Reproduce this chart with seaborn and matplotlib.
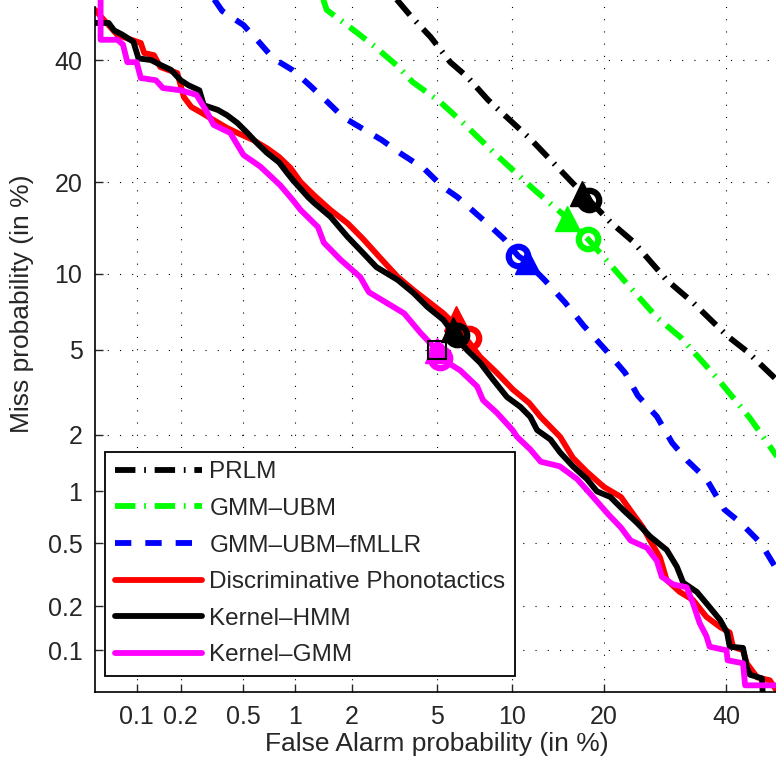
import numpy as np
import pandas as pd
import seaborn as sns
import matplotlib
matplotlib.use("Agg")
import matplotlib.pyplot as plt
from statistics import NormalDist

# DET curves, values in % (false alarm, miss)
prlm_fa = [3.3, 3.8, 4.7, 5.7, 6.7, 8.1, 11.7, 17.6, 20.9, 24.2, 29.5, 34.0, 40.3, 44.0, 50.0]
prlm_miss = [51.5, 48.5, 44.3, 39.6, 36.9, 32.8, 26.2, 18.2, 15.1, 13.0, 9.5, 7.8, 5.7, 4.9, 3.6]

gmm_fa = [1.42, 1.48, 2.0, 2.6, 3.35, 3.9, 5.15, 6.45, 8.5, 12.0, 15.4, 17.9, 22.8, 27.9, 31.8,
          35.8, 38.9, 44.6, 50.0]
gmm_miss = [51.5, 49.5, 45.9, 42.5, 38.8, 36.0, 32.5, 28.9, 24.3, 19.0, 15.6, 13.3, 9.5, 6.8, 5.65,
            4.4, 3.6, 2.4, 1.5]

fmllr_fa = [0.33, 0.37, 0.5, 0.61, 0.75, 0.97, 1.2, 1.49, 1.8, 2.1, 2.8, 3.45, 4.4, 5.3, 6.1, 8.0,
            9.3, 10.5, 11.2, 13.0, 15.2, 17.4, 20.2, 23.0, 24.9, 27.9, 30.4, 33.0, 36.4, 39.7,
            42.8, 46.6, 50.0]
fmllr_miss = [51.5, 49.3, 46.6, 43.6, 40.3, 38.1, 35.4, 32.5, 29.9, 28.6, 26.2, 24.1, 21.9, 19.4,
              18.1, 15.0, 13.3, 11.6, 11.1, 9.5, 7.8, 6.3, 5.0, 3.95, 3.1, 2.46, 1.82, 1.47, 1.17,
              0.79, 0.66, 0.5, 0.33]

disc_fa = [0.04, 0.05, 0.073, 0.107, 0.113, 0.132, 0.146, 0.164, 0.19, 0.21, 0.235, 0.27, 0.327,
           0.397, 0.46, 0.57, 0.69, 0.81, 0.94, 1.07, 1.27, 1.55, 1.9, 2.27, 2.81, 3.34, 3.94, 4.69,
           5.33, 6.1, 7.54, 8.77, 10.05, 11.5, 12.6, 14.65, 16.1, 17.8, 20.0, 22.4, 23.8, 25.7, 26.8,
           28.4, 29.5, 31.7, 34.0, 36.4, 38.9, 40.7, 41.3, 43.2, 43.9, 45.9, 48.3, 49.5, 52]
disc_miss = [49.5, 49.5, 44.7, 43.2, 41.3, 40.9, 38.7, 38.2, 37.6, 33.3, 31.6, 30.7, 29.4, 28.1,
             27.3, 26.2, 24.9, 23.6, 22.0, 20.05, 18.3, 16.5, 14.97, 13.3, 11.25, 9.75, 8.71, 7.75,
             7.07, 6.22, 4.65, 3.94, 3.31, 2.86, 2.45, 1.95, 1.52, 1.28, 1.06, 0.93, 0.78, 0.62,
             0.52, 0.41, 0.296, 0.248, 0.22, 0.17, 0.145, 0.133, 0.106, 0.1, 0.081, 0.064, 0.061,
             0.052, 0.052]

khmm_fa = [0.04, 0.063, 0.069, 0.08, 0.095, 0.103, 0.126, 0.146, 0.172, 0.2, 0.225, 0.265, 0.283,
           0.347, 0.397, 0.46, 0.528, 0.602, 0.69, 0.81, 0.9, 0.97, 1.18, 1.27, 1.55, 1.9, 2.27,
           2.64, 3.34, 3.94, 4.55, 5.33, 5.86, 6.69, 7.54, 8.46, 9.56, 10.7, 11.6, 12.25, 13.6,
           14.65, 16.1, 17.8, 19.1, 20.9, 22.8, 24.8, 26.8, 29.5, 31.2, 32.3, 34.7, 37.0, 38.9,
           40.2, 40.7, 43.2, 43.9, 44.5, 46.8, 47.0]
khmm_miss = [47.0, 47.0, 45.6, 44.7, 43.4, 40.3, 40.0, 39.1, 38.2, 36.3, 35.4, 34.5, 31.9, 31.1,
             30.2, 28.9, 27.3, 25.7, 24.2, 22.8, 21.3, 20.3, 18.04, 17.35, 15.7, 13.5, 11.9, 10.6,
             9.5, 8.49, 7.49, 6.65, 5.88, 4.97, 4.38, 3.68, 3.05, 2.74, 2.45, 2.11, 1.89, 1.62,
             1.37, 1.17, 1.0, 0.93, 0.78, 0.66, 0.55, 0.456, 0.36, 0.285, 0.248, 0.197, 0.162,
             0.133, 0.106, 0.104, 0.076, 0.067, 0.063, 0.045]

kgmm_fa = [0.055, 0.055, 0.073, 0.08, 0.086, 0.1, 0.107, 0.136, 0.152, 0.2, 0.254, 0.297, 0.327,
           0.415, 0.5, 0.63, 0.82, 0.97, 1.07, 1.33, 1.43, 1.75, 2.2, 2.43, 2.98, 3.57, 4.24, 5.0,
           5.16, 6.27, 7.34, 7.74, 8.77, 10.02, 10.4, 11.6, 12.6, 14.6, 16.6, 18.6, 20.5, 22.4,
           23.8, 26.3, 27.9, 28.7, 30.6, 32.9, 34.0, 35.2, 36.4, 37.0, 40.1, 40.3, 43.2, 43.6, 52]
kgmm_miss = [52, 43.8, 43.8, 42.9, 39.6, 39.6, 36.7, 36.3, 34.9, 34.5, 33.7, 30.7, 28.6, 27.3,
             23.9, 22.2, 19.65, 17.7, 16.5, 14.55, 12.9, 11.25, 9.75, 8.55, 7.75, 7.07, 5.88, 4.97,
             4.6, 4.05, 3.42, 2.95, 2.56, 2.11, 1.95, 1.68, 1.45, 1.37, 1.17, 0.93, 0.75, 0.62,
             0.52, 0.47, 0.39, 0.31, 0.277, 0.266, 0.21, 0.154, 0.126, 0.106, 0.1, 0.085, 0.081,
             0.056, 0.056]

# operating points: (fa, miss) for triangle and circle
tri_pts = {"PRLM": (17.2, 18.6), "GMM\u2013UBM": (15.4, 15.6), "GMM\u2013UBM\u2013fMLLR": (11.3, 11.1),
           "Discriminative Phonotactics": (6.0, 6.78), "Kernel\u2013HMM": (5.86, 6.1),
           "Kernel\u2013GMM": (5.0, 4.97)}
circ_pts = {"PRLM": (18.1, 17.7), "GMM\u2013UBM": (17.9, 13.3), "GMM\u2013UBM\u2013fMLLR": (10.5, 11.6),
            "Discriminative Phonotactics": (6.8, 5.6), "Kernel\u2013HMM": (6.1, 5.75),
            "Kernel\u2013GMM": (5.16, 4.6)}
square_pt = (5.0, 4.97)

ticks = [0.1, 0.2, 0.5, 1, 2, 5, 10, 20, 40]
tick_labels = ["0.1", "0.2", "0.5", "1", "2", "5", "10", "20", "40"]

systems = [
    ("PRLM", prlm_fa, prlm_miss, "#000000", (0, (3.5, 1.5, 0.3, 1.5))),
    ("GMM\u2013UBM", gmm_fa, gmm_miss, "#00ff00", (0, (3.5, 1.5, 0.3, 1.5))),
    ("GMM\u2013UBM\u2013fMLLR", fmllr_fa, fmllr_miss, "#0000ff", (0, (2.8, 2.4))),
    ("Discriminative Phonotactics", disc_fa, disc_miss, "#ff0000", "-"),
    ("Kernel\u2013HMM", khmm_fa, khmm_miss, "#000000", "-"),
    ("Kernel\u2013GMM", kgmm_fa, kgmm_miss, "#ff00ff", "-"),
]

# normal deviate (probit) scale for percentages
nd = NormalDist()
_fwd = np.vectorize(lambda p: nd.inv_cdf(min(max(p / 100.0, 1e-12), 1 - 1e-12))
                    if np.isfinite(p) else np.nan, otypes=[float])
_inv = np.vectorize(lambda z: nd.cdf(z) * 100.0 if np.isfinite(z) else np.nan, otypes=[float])

sns.set_style("white")
plt.rcParams["font.family"] = ["Liberation Sans", "DejaVu Sans"]

fig = plt.figure(figsize=(7.76, 7.61), dpi=100)
ax = fig.add_axes([95 / 776, 69 / 761, 681 / 776, 692 / 761])
ax.set_xscale("function", functions=(_fwd, _inv))
ax.set_yscale("function", functions=(_fwd, _inv))

for name, fa, miss, color, ls in systems:
    df = pd.DataFrame({"fa": fa, "miss": miss})
    sns.lineplot(data=df, x="fa", y="miss", ax=ax, sort=False, estimator=None,
                 color=color, linestyle=ls, linewidth=4.2, label=name)
    tx, ty = tri_pts[name]
    ax.plot([tx], [ty], marker="^", ms=18, color=color, mec=color, ls="none")
    cx, cy = circ_pts[name]
    ax.plot([cx], [cy], marker="o", ms=14, mfc="none", mec=color, mew=4.5, ls="none")
    if name == "Kernel\u2013GMM":
        ax.plot([square_pt[0]], [square_pt[1]], marker="o", ms=11, color=color, ls="none")
        ax.plot([square_pt[0]], [square_pt[1]], marker="s", ms=13, mfc="none", mec="black",
                mew=1.5, ls="none")

ax.set_xlim(0.05, 49.5)
ax.set_ylim(0.05, 51.4)
ax.set_xticks(ticks)
ax.set_xticklabels(tick_labels)
ax.set_yticks(ticks)
ax.set_yticklabels(tick_labels)
ax.minorticks_off()
ax.tick_params(direction="in", length=6, width=1, labelsize=18, pad=9,
               bottom=True, left=True, top=False, right=False)
ax.grid(True, color="black", linestyle=(0, (1, 10)), linewidth=0.8)

for s in ["top", "right"]:
    ax.spines[s].set_visible(False)
for s in ["left", "bottom"]:
    ax.spines[s].set_color("black")
    ax.spines[s].set_linewidth(1.2)
ax.spines["left"].set_bounds(0.05, 50)

ax.set_xlabel("False Alarm probability (in %)", fontsize=19)
ax.set_ylabel("Miss probability (in %)", fontsize=19)
ax.xaxis.set_label_coords(0.502, -0.058)
ax.yaxis.set_label_coords(-0.09, 0.561)

leg = ax.legend(loc="lower left", bbox_to_anchor=(0.0146, 0.023), borderaxespad=0,
                fontsize=17.5, handlelength=3.6, handletextpad=0.3, labelspacing=0.6,
                borderpad=0.4, fancybox=False, framealpha=1, edgecolor="black")
leg.get_frame().set_linewidth(1.3)

fig.savefig("out.png", dpi=100)
